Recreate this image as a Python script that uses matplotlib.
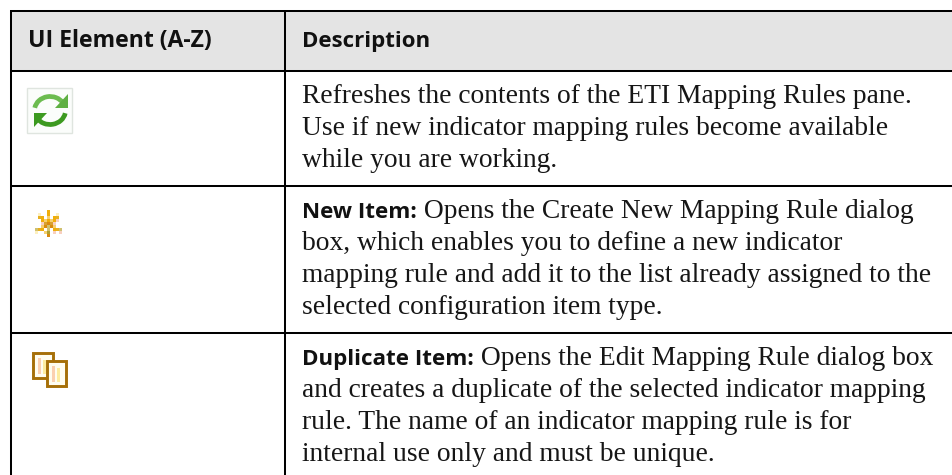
import numpy as np
import matplotlib
matplotlib.use("Agg")
import matplotlib.pyplot as plt
from matplotlib.colors import to_rgb
from matplotlib.patches import Rectangle, Arc, Polygon

W, H = 953, 475

headers = ["UI Element (A-Z)", "Description"]
row_lines = [
    [("", "Refreshes the contents of the ETI Mapping Rules pane."),
     ("", "Use if new indicator mapping rules become available"),
     ("", "while you are working.")],
    [("New Item:", " Opens the Create New Mapping Rule dialog"),
     ("", "box, which enables you to define a new indicator"),
     ("", "mapping rule and add it to the list already assigned to the"),
     ("", "selected configuration item type.")],
    [("Duplicate Item:", " Opens the Edit Mapping Rule dialog box"),
     ("", "and creates a duplicate of the selected indicator mapping"),
     ("", "rule. The name of an indicator mapping rule is for"),
     ("", "internal use only and must be unique.")],
]
row_first_y = [103, 218, 365]
line_step = 32

h_lines = [10.5, 70.5, 185.5, 333]
v_lines = [11, 285]

# star icon pixels, 3px each
star_rows = [
    "....O....",
    ".l..O..l.",
    ".YO.y.OY.",
    "..OyOyOp.",
    "..pdDdp..",
    "..yDgDy..",
    "gYO.g.OYg",
    "l..yG.p.p",
    "....D....",
]
star_colors = {".": "white", "O": "#f0ae0a", "l": "#fdf0c0", "Y": "#e8b020", "y": "#f6d070",
               "p": "#f8d0c0", "d": "#d8a030", "D": "#d98a10", "g": "#cfc070", "G": "#b0a030"}

fig = plt.figure(figsize=(W / 100, H / 100), dpi=100)
ax = fig.add_axes([0, 0, 1, 1])

# header band
ax.add_patch(Rectangle((11, 10.5), W - 11, 60, fc="#e4e4e4", ec="none"))

# grid
for y in h_lines:
    ax.plot([10, W], [y, y], color="black", lw=1.45, solid_capstyle="butt")
for x in v_lines:
    ax.plot([x, x], [10, H], color="black", lw=1.45, solid_capstyle="butt")

# header text
ax.text(28, 47.5, headers[0], family="Open Sans", weight="bold", fontsize=16.6, color="#111111", va="baseline")
ax.text(302, 47.5, headers[1], family="Open Sans", weight="bold", fontsize=16, color="#111111", va="baseline")

# body text
ax.set_xlim(0, W)
ax.set_ylim(H, 0)
renderer = fig.canvas.get_renderer()
for first_y, lines in zip(row_first_y, row_lines):
    for i, (bold, rest) in enumerate(lines):
        y = first_y + i * line_step
        x = 302
        if bold:
            t = ax.text(x, y, bold, family="Open Sans", weight="bold", fontsize=16.1, color="#111111", va="baseline")
            x = ax.transData.inverted().transform(t.get_window_extent(renderer))[1][0]
        ax.text(x, y, rest, family="Liberation Serif", fontsize=19.8, color="#161616", va="baseline")

# refresh icon
ax.add_patch(Rectangle((27.5, 87.5), 45, 45, fc="#fbfdfb", ec="#dfe5df", lw=1))
ax.add_patch(Arc((50, 110.5), 31, 28, theta1=190, theta2=330, color="#6cbc50", lw=3.4))
ax.add_patch(Arc((50, 110.5), 31, 28, theta1=10, theta2=150, color="#3c9a20", lw=3.4))
ax.add_patch(Polygon([(68, 94), (68, 108), (55, 108)], fc="#5fb043", ec="none"))
ax.add_patch(Polygon([(34, 127), (34, 113), (47, 113)], fc="#3c9a20", ec="none"))

# star icon
star = np.array([[to_rgb(star_colors[c]) for c in row] for row in star_rows])
ax.imshow(star, extent=(35, 62, 237, 210), interpolation="nearest", aspect="auto", zorder=3)

# duplicate icon
for x0, y0, w, h in [(33.5, 352.5, 20, 25), (47.5, 360.5, 19, 25)]:
    ax.add_patch(Rectangle((x0, y0), w, h, fc="#fffdf0", ec="#a66f08", lw=2.1, zorder=3))
    ax.add_patch(Rectangle((x0 + 5, y0 + 5), 3, h - 9, fc="#fbd0b0", ec="none", zorder=3))
    ax.add_patch(Rectangle((x0 + 10, y0 + 7), 3, h - 11, fc="#fdeca0", ec="none", zorder=3))

ax.set_xlim(0, W)
ax.set_ylim(H, 0)
ax.axis("off")

fig.savefig("out.png", dpi=100)
